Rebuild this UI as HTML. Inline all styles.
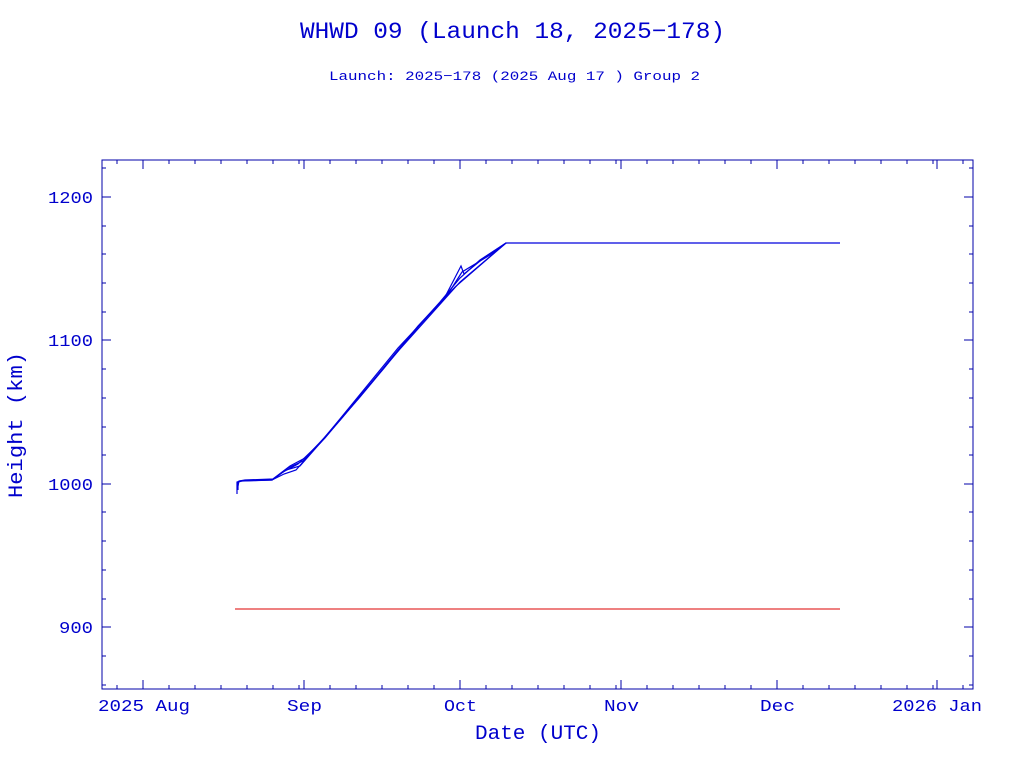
<!DOCTYPE html>
<html><head><style>body{margin:0;background:#fff}svg{display:block}</style></head><body>
<svg width="1024" height="768" xmlns="http://www.w3.org/2000/svg" font-family="Liberation Mono, DejaVu Sans Mono, monospace" fill="#0000cc">
<text x="300" y="38" font-size="23" textLength="425" lengthAdjust="spacingAndGlyphs">WHWD 09 (Launch 18, 2025−178)</text>
<text x="329" y="80" font-size="13" textLength="371" lengthAdjust="spacingAndGlyphs">Launch: 2025−178  (2025 Aug 17 )  Group 2</text>
<rect x="102" y="160" width="871" height="529" fill="none" stroke="#0000aa" stroke-width="1"/>
<g stroke="#0000aa" stroke-width="1">
<path d="M143 689v-9M304 689v-9M460 689v-9M621 689v-9M777 689v-9M937 689v-9M143 160v9M304 160v9M460 160v9M621 160v9M777 160v9M937 160v9"/>
<path d="M117 689v-4M169 689v-4M195 689v-4M221 689v-4M247 689v-4M273 689v-4M299 689v-4M330 689v-4M356 689v-4M382 689v-4M408 689v-4M434 689v-4M486 689v-4M512 689v-4M538 689v-4M564 689v-4M590 689v-4M616 689v-4M647 689v-4M673 689v-4M699 689v-4M725 689v-4M751 689v-4M803 689v-4M829 689v-4M855 689v-4M881 689v-4M907 689v-4M933 689v-4M963 689v-4"/>
<path d="M117 160v4M169 160v4M195 160v4M221 160v4M247 160v4M273 160v4M299 160v4M330 160v4M356 160v4M382 160v4M408 160v4M434 160v4M486 160v4M512 160v4M538 160v4M564 160v4M590 160v4M616 160v4M647 160v4M673 160v4M699 160v4M725 160v4M751 160v4M803 160v4M829 160v4M855 160v4M881 160v4M907 160v4M933 160v4M963 160v4"/>
<path d="M102 197h9M102 340h9M102 484h9M102 627h9M973 197h-9M973 340h-9M973 484h-9M973 627h-9"/>
<path d="M102 168h4M102 226h4M102 254h4M102 283h4M102 312h4M102 369h4M102 398h4M102 427h4M102 455h4M102 512h4M102 541h4M102 570h4M102 599h4M102 656h4M102 685h4"/>
<path d="M973 168h-4M973 226h-4M973 254h-4M973 283h-4M973 312h-4M973 369h-4M973 398h-4M973 427h-4M973 455h-4M973 512h-4M973 541h-4M973 570h-4M973 599h-4M973 656h-4M973 685h-4"/>
</g>
<g font-size="17">
<text x="48" y="203" textLength="45" lengthAdjust="spacingAndGlyphs">1200</text>
<text x="48" y="346" textLength="45" lengthAdjust="spacingAndGlyphs">1100</text>
<text x="48" y="490" textLength="45" lengthAdjust="spacingAndGlyphs">1000</text>
<text x="59" y="633" textLength="34" lengthAdjust="spacingAndGlyphs">900</text>
<text x="98" y="711" textLength="92" lengthAdjust="spacingAndGlyphs">2025 Aug</text>
<text x="287" y="711" textLength="35" lengthAdjust="spacingAndGlyphs">Sep</text>
<text x="444" y="711" textLength="33" lengthAdjust="spacingAndGlyphs">Oct</text>
<text x="604" y="711" textLength="35" lengthAdjust="spacingAndGlyphs">Nov</text>
<text x="760" y="711" textLength="35" lengthAdjust="spacingAndGlyphs">Dec</text>
<text x="892" y="711" textLength="90" lengthAdjust="spacingAndGlyphs">2026 Jan</text>
</g>
<text x="475" y="739" font-size="20" textLength="126" lengthAdjust="spacingAndGlyphs">Date (UTC)</text>
<text transform="translate(22,498) rotate(-90)" font-size="20" textLength="146" lengthAdjust="spacingAndGlyphs">Height (km)</text>
<g fill="none" stroke="#0000dd" stroke-width="1.2">
<polyline points="237,494 237,482 240,481 272,480 283,472 298,464 320,443 340,420 360,397 380,372 398,350 415,330 440,302 460,278 480,260 506,243 840,243"/>
<polyline points="238,490 238,482 242,481 272,480 286,470 300,466 322,441 342,418 362,394 382,370 400,348 418,326 445,297 461,266 464,274 485,257 506,243"/>
<polyline points="238,486 239,481 245,480 273,479 288,468 303,461 325,438 345,414 365,391 385,367 402,346 420,325 448,294 462,272 490,255 506,243"/>
<polyline points="273,479 290,466 305,458 326,436 398,348 455,287 506,243"/>
<polyline points="272,480 284,474 296,470 318,445 400,349 460,282 506,243"/>
</g>
<line x1="235" y1="609" x2="840" y2="609" stroke="#dd0000" stroke-width="1"/>
</svg>
</body></html>
